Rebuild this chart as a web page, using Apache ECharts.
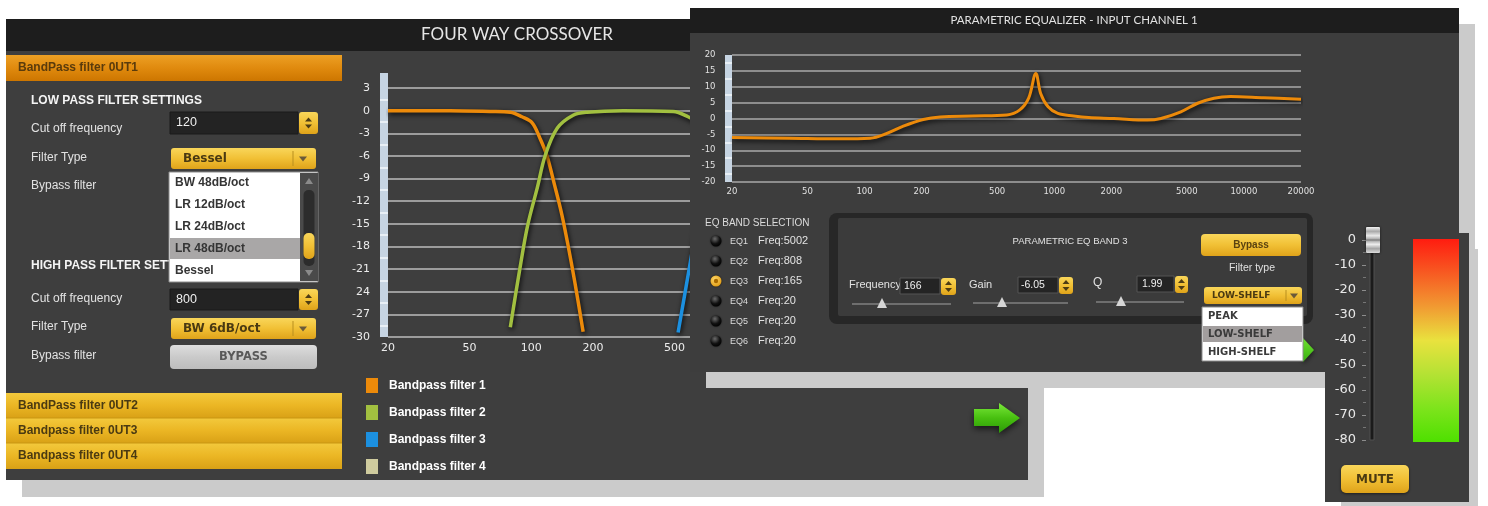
<!DOCTYPE html>
<html><head><meta charset="utf-8">
<script src="https://cdn.jsdelivr.net/npm/echarts@6/dist/echarts.min.js"></script>
<style>html,body{margin:0;padding:0;background:#fff}#c{width:1488px;height:506px}</style>
</head><body><div id="c"></div>
<script>
// ================= DATA =================
const FREQ_TICKS = [20, 50, 100, 200, 500, 1000, 2000, 5000, 10000, 20000];
const XO_Y_TICKS = [-30, -27, -24, -21, -18, -15, -12, -9, -6, -3, 0, 3];
const XO_Y_LABELS = ['-30', '-27', '24', '-21', '-18', '-15', '-12', '-9', '-6', '-3', '0', '3'];
const XO_BAND_MARKS = [-28.5, -25.5, -22.5, -19.5, -16.5, -13.5, -10.5, -7.5, -4.5, -1.5, 1.5];
const XO_NAMES = ['Bandpass filter 1', 'Bandpass filter 2', 'Bandpass filter 3', 'Bandpass filter 4'];
const BP1_HZ = [20, 40, 63, 79, 90, 101, 110, 119, 130, 141, 151, 163, 179];
const BP1_DB = [0, 0, -0.1, -0.2, -0.8, -1.6, -3.6, -5.9, -9.9, -13.8, -17.8, -22.7, -29.3];
const BP2_HZ = [79, 88, 96, 107, 117, 134, 160, 187, 280, 492, 582, 650];
const BP2_DB = [-28.7, -20.9, -15.2, -10.2, -5.9, -2.3, -0.6, -0.2, 0, -0.1, -0.8, -1.6];
const BP3_HZ = [520, 594, 700];
const BP3_DB = [-29.4, -20.4, -9];
const BP4_HZ = [];
const BP4_DB = [];

const EQ_Y_TICKS = [-20, -15, -10, -5, 0, 5, 10, 15, 20];
const EQ_BAND_MARKS = [-17.5, -12.5, -7.5, -2.5, 2.5, 7.5, 12.5, 17.5];
const EQ_HZ = [20, 40, 74, 107, 131, 160, 204, 250, 372, 562, 658, 733, 800, 848, 928, 1045, 1266, 1520, 2060, 3100, 3650, 4650, 5700, 6950, 8500, 12760, 20000];
const EQ_DB = [-6.0, -6.2, -6.4, -6.2, -4.7, -2.4, -0.3, 0.5, 0.8, 1.1, 2.7, 6.4, 14.2, 7.9, 3.7, 1.6, 0.8, 0.3, 0.0, -0.5, 0.0, 2.1, 4.8, 6.4, 6.9, 6.5, 6.1];

const EQ_BANDS = ['EQ1', 'EQ2', 'EQ3', 'EQ4', 'EQ5', 'EQ6'];
const EQ_BAND_FREQ = ['5002', '808', '165', '20', '20', '20'];
const LP_LIST = ['BW 48dB/oct', 'LR 12dB/oct', 'LR 24dB/oct', 'LR 48dB/oct', 'Bessel'];
const SHELF_LIST = ['PEAK', 'LOW-SHELF', 'HIGH-SHELF'];
const METER_MIN = -80, METER_MAX = 0, METER_STEP = 10;

// ================= HELPERS =================
const lg = v => Math.log10(v);
const pairs = (hz, db) => hz.map((f, i) => [lg(f), db[i]]);
const XMIN = lg(20), XMAX = lg(20000);
const labelHz = v => String(Math.round(Math.pow(10, v)));
const SANS = '"Liberation Sans", Arial, sans-serif';
const DJ = '"DejaVu Sans", Verdana, sans-serif';
const G = [];
const lin = (stops) => ({type: 'linear', x: 0, y: 0, x2: 0, y2: 1, colorStops: stops.map((c, i) => ({offset: i / (stops.length - 1), color: c}))});
const YEL = lin(['#f9d65a', '#f1c035', '#dfa31a']);
const YEL2 = lin(['#f3c93c', '#ebb624', '#d9a116']);
const ORANGE = lin(['#eda024', '#e08a0e', '#cd7600']);
const GRAYBTN = lin(['#dedede', '#cacaca', '#bdbdbd']);
function R(x, y, w, h, fill, z, o) {
  o = o || {};
  G.push({type: 'rect', silent: true, z: z, shape: {x: x, y: y, width: w, height: h, r: o.r || 0},
    style: {fill: fill, stroke: o.stroke || null, lineWidth: o.lw || 0, shadowBlur: o.sb || 0, shadowColor: o.sc || 'rgba(0,0,0,0)', shadowOffsetY: o.sy || 0}});
}
function T(x, y, s, size, color, z, o) {
  o = o || {};
  const al = o.align || 'left';
  G.push({type: 'text', silent: true, z: z, x: x, y: y,
    style: {text: s, fill: color, font: (o.bold ? 'bold ' : '') + size + 'px ' + (o.family || SANS),
      align: al, verticalAlign: 'middle', textAlign: al, textVerticalAlign: 'middle'}});
}
function P(pts, fill, z, o) {
  o = o || {};
  G.push({type: 'polygon', silent: true, z: z, shape: {points: pts},
    style: {fill: fill, shadowBlur: o.sb || 0, shadowColor: o.sc || 'rgba(0,0,0,0)', shadowOffsetY: o.sy || 0}});
}
function L(x1, y1, x2, y2, color, w, z) {
  G.push({type: 'line', silent: true, z: z, shape: {x1: x1, y1: y1, x2: x2, y2: y2}, style: {stroke: color, lineWidth: w}});
}
function C(cx, cy, r, fill, z, o) {
  o = o || {};
  G.push({type: 'circle', silent: true, z: z, shape: {cx: cx, cy: cy, r: r},
    style: {fill: fill, stroke: o.stroke || null, lineWidth: o.lw || 0, shadowBlur: o.sb || 0, shadowColor: o.sc || 'rgba(0,0,0,0)'}});
}
function spin(x, y, w, h, z) {
  R(x, y, w, h, YEL, z, {r: 3});
  const cx = x + w / 2, m = y + h / 2;
  P([[cx - 3.5, m - 1.5], [cx + 3.5, m - 1.5], [cx, m - 5.5]], '#4d3c14', z);
  P([[cx - 3.5, m + 1.5], [cx + 3.5, m + 1.5], [cx, m + 5.5]], '#4d3c14', z);
}
function dropdown(x, y, w, h, label, z, size, divOff, arrOff, tx) {
  R(x, y, w, h, YEL, z, {r: 3});
  T(x + tx, y + h / 2 + 0.5, label, size, '#4a3a12', z, {bold: 1, family: DJ});
  L(x + w - divOff, y + 3, x + w - divOff, y + h - 3, '#b98f1e', 1, z);
  const ax = x + w - arrOff, m = y + h / 2;
  P([[ax - 4, m - 2], [ax + 4, m - 2], [ax, m + 3]], '#6a5a3a', z);
}

// ================= CROSSOVER PANEL (bottom layer) =================
R(22, 35, 1022, 462, '#cbcbcb', 1);
R(6, 19, 1022, 461, '#3e3e3e', 2);
R(6, 19, 1022, 32, '#1d1d1d', 2);
T(517, 35, 'FOUR WAY CROSSOVER', 17, '#e6e6e6', 2, {align: 'center', family: 'Lato, "Open Sans", sans-serif'});

R(6, 55, 336, 26, ORANGE, 3);
T(18, 68, 'BandPass filter 0UT1', 12, '#5a3b0c', 3, {bold: 1});
T(31, 101, 'LOW PASS FILTER SETTINGS', 12, '#f4f4f4', 3, {bold: 1});
T(31, 129, 'Cut off frequency', 12, '#e2e2e2', 3);
R(170, 112, 128, 22, '#232323', 3, {stroke: '#1a1a1a', lw: 1});
T(176, 123, '120', 12.5, '#efefef', 3);
spin(299, 112, 19, 22, 3);
T(31, 158, 'Filter Type', 12, '#e2e2e2', 3);
dropdown(171, 148, 145, 21, 'Bessel', 3, 12, 23, 13, 12);
T(31, 186, 'Bypass filter', 12, '#e2e2e2', 3);
T(31, 266, 'HIGH PASS FILTER SETTINGS', 12, '#f4f4f4', 3, {bold: 1});
T(31, 299, 'Cut off frequency', 12, '#e2e2e2', 3);
R(170, 289, 128, 21, '#232323', 3, {stroke: '#1a1a1a', lw: 1});
T(176, 300, '800', 12.5, '#efefef', 3);
spin(299, 289, 19, 21, 3);
T(31, 327, 'Filter Type', 12, '#e2e2e2', 3);
dropdown(171, 318, 145, 21, 'BW 6dB/oct', 3, 12, 23, 13, 12);
T(31, 356, 'Bypass filter', 12, '#e2e2e2', 3);
R(170, 345, 147, 24, GRAYBTN, 3, {r: 4});
T(243.5, 357, 'BYPASS', 11.5, '#595959', 3, {bold: 1, align: 'center', family: DJ});
// open list
R(169, 172, 149, 110, '#ffffff', 3, {stroke: '#8c8c8c', lw: 1});
R(170, 238, 130, 21, '#a9a7a7', 3);
LP_LIST.forEach((s, i) => T(175, 183 + i * 22, s, 12, '#353535', 3, {bold: 1}));
R(300, 173, 18, 108, '#4a4a4a', 3);
R(303.5, 190, 11, 76, '#2c2c2c', 3, {r: 5});
R(303.5, 233, 11, 26, YEL, 3, {r: 5});
P([[305, 184], [313, 184], [309, 178]], '#8a8a8a', 3);
P([[305, 270], [313, 270], [309, 276]], '#8a8a8a', 3);
// collapsed headers
R(6, 393, 336, 25, YEL2, 3);
R(6, 418, 336, 25, YEL2, 3);
R(6, 443, 336, 26, YEL2, 3);
L(6, 418, 342, 418, '#c99612', 1, 3);
L(6, 443, 342, 443, '#c99612', 1, 3);
T(18, 406, 'BandPass filter 0UT2', 12, '#4a3a12', 3, {bold: 1});
T(18, 431, 'Bandpass filter 0UT3', 12, '#4a3a12', 3, {bold: 1});
T(18, 456, 'Bandpass filter 0UT4', 12, '#4a3a12', 3, {bold: 1});
// green arrow
P([[974, 409], [999, 409], [999, 403], [1020, 418], [999, 433], [999, 426], [974, 426]],
  lin(['#7ae83a', '#48c010', '#2c9a08']), 3, {sb: 6, sc: 'rgba(0,0,0,0.6)', sy: 3});

// ================= EQ PANEL =================
R(706, 24, 769, 364, '#cbcbcb', 10);
R(690, 8, 769, 364, '#3d3d3d', 11);
R(690, 8, 769, 25, '#1d1d1d', 11);
T(1074, 20.5, 'PARAMETRIC EQUALIZER - INPUT CHANNEL 1', 11.5, '#e2e2e2', 11, {align: 'center', family: 'Lato, "Open Sans", sans-serif'});

T(705, 223, 'EQ BAND SELECTION', 10, '#dcdcdc', 14);
EQ_BANDS.forEach((b, i) => {
  const y = 241 + i * 20;
  if (i === 2) {
    C(716, y, 5.5, {type: 'radial', x: 0.4, y: 0.35, r: 0.7, colorStops: [{offset: 0, color: '#ffd86a'}, {offset: 1, color: '#e09a10'}]}, 14, {sb: 2, sc: 'rgba(0,0,0,0.7)'});
    C(716, y, 2.2, '#a86a00', 14);
  } else {
    C(716, y, 5.5, {type: 'radial', x: 0.4, y: 0.3, r: 0.75, colorStops: [{offset: 0, color: '#6a6a6a'}, {offset: 0.6, color: '#111'}, {offset: 1, color: '#000'}]}, 14, {sb: 2, sc: 'rgba(0,0,0,0.6)'});
  }
  T(730, y + 0.5, b, 9, '#dedede', 14);
  T(758, y - 0.5, 'Freq:' + EQ_BAND_FREQ[i], 11, '#e2e2e2', 14);
});
R(829, 213, 484, 111, '#272727', 14, {r: 8});
R(838, 218, 469, 98, '#3b3b3b', 14, {r: 2});
T(1070, 241, 'PARAMETRIC EQ BAND 3', 9.5, '#e2e2e2', 14, {align: 'center'});
T(849, 285, 'Frequency', 11, '#e2e2e2', 14);
R(900, 278, 40, 16, '#242424', 14, {stroke: '#555', lw: 1});
T(904, 286.5, '166', 10.5, '#efefef', 14);
spin(941, 278, 15, 17, 14);
L(852, 304, 951, 304, '#6e6e6e', 2, 14);
P([[877, 308], [887, 308], [882, 298]], '#d6d6d6', 14);
T(969, 285, 'Gain', 11, '#e2e2e2', 14);
R(1018, 277, 40, 16, '#242424', 14, {stroke: '#555', lw: 1});
T(1021, 285.5, '-6.05', 10.5, '#efefef', 14);
spin(1059, 277, 14, 17, 14);
L(973, 303, 1068, 303, '#6e6e6e', 2, 14);
P([[997, 307], [1007, 307], [1002, 297]], '#d6d6d6', 14);
T(1093, 283, 'Q', 12, '#e2e2e2', 14);
R(1137, 276, 37, 16, '#242424', 14, {stroke: '#555', lw: 1});
T(1142, 284.5, '1.99', 10.5, '#efefef', 14);
spin(1175, 276, 13, 17, 14);
L(1096, 302, 1184, 302, '#6e6e6e', 2, 14);
P([[1116, 306], [1126, 306], [1121, 296]], '#d6d6d6', 14);
R(1201, 234, 100, 22, YEL, 14, {r: 4});
T(1251, 245.5, 'Bypass', 10, '#5a4210', 14, {bold: 1, align: 'center'});
T(1252, 268, 'Filter type', 10.5, '#e0e0e0', 14, {align: 'center'});
dropdown(1204, 287, 98, 17, 'LOW-SHELF', 14, 9, 16, 8, 8);
P([[1303, 338], [1314, 350], [1303, 362]], lin(['#70e030', '#38b010']), 14, {sb: 5, sc: 'rgba(0,0,0,0.6)', sy: 2});
R(1202, 307, 101, 54, '#ffffff', 14, {stroke: '#8c8c8c', lw: 1});
R(1203, 326, 99, 16, '#a29e9e', 14);
SHELF_LIST.forEach((s, i) => T(1208, 316.5 + i * 18, s, 10, '#3a3a3a', 14, {bold: 1, family: DJ}));

// ================= METER PANEL =================
R(1341, 249, 137, 266, '#cbcbcb', 20);
R(1325, 233, 144, 269, '#3d3d3d', 21);
R(1370, 238, 4, 202, '#1b1b1b', 21, {stroke: '#505050', lw: 1});
R(1413, 239, 46, 203, lin(['#ff1c10', '#f75a22', '#f19a32', '#e9e23e', '#b4e234', '#7ee41c', '#4ee000']), 21);
R(1341, 465, 68, 28, YEL, 21, {r: 5, sb: 3, sc: 'rgba(0,0,0,0.5)', sy: 1});
T(1375, 479.5, 'MUTE', 12, '#4a3a12', 21, {bold: 1, align: 'center', family: DJ});
R(1366, 227, 14, 26, lin(['#f4f4f4', '#a9a9a9', '#e9e9e9', '#9c9c9c', '#eeeeee', '#a4a4a4', '#dddddd']), 23, {r: 1, sb: 3, sc: 'rgba(0,0,0,0.6)'});
L(1366, 240, 1380, 240, '#7a7a7a', 1, 23);

// ================= OPTION =================
const lineShadow = {shadowColor: 'rgba(0,0,0,0.9)', shadowBlur: 5, shadowOffsetX: 1, shadowOffsetY: 2};
const xoColors = ['#ec8a0a', '#a2c040', '#1c90e0', '#cfcb9e'];
const xoData = [pairs(BP1_HZ, BP1_DB), pairs(BP2_HZ, BP2_DB), pairs(BP3_HZ, BP3_DB), pairs(BP4_HZ, BP4_DB)];

const option = {
  backgroundColor: '#ffffff',
  animation: false,
  graphic: {elements: G},
  grid: [
    {left: 388, top: 73, width: 615, height: 264},
    {left: 732, top: 55, width: 569, height: 127},
    {left: 1366, top: 240, width: 8, height: 200}
  ],
  legend: {
    data: XO_NAMES, orient: 'vertical', left: 366, top: 378, padding: 0, icon: 'rect',
    itemWidth: 12, itemHeight: 15, itemGap: 12, selectedMode: false, z: 6,
    textStyle: {color: '#ffffff', fontWeight: 'bold', fontSize: 12, fontFamily: SANS, padding: [0, 0, 0, 6]}
  },
  xAxis: [
    {type: 'value', gridIndex: 0, min: XMIN, max: XMAX, z: 4,
      axisLine: {show: false, onZero: false}, axisTick: {show: false}, splitLine: {show: false},
      axisLabel: {customValues: FREQ_TICKS.map(lg), formatter: labelHz, color: '#ececec', fontFamily: DJ, fontSize: 11, margin: 6}},
    {type: 'value', gridIndex: 1, min: XMIN, max: XMAX, z: 12,
      axisLine: {show: false, onZero: false}, axisTick: {show: false}, splitLine: {show: false},
      axisLabel: {customValues: FREQ_TICKS.map(lg), formatter: labelHz, color: '#e0e0e0', fontFamily: DJ, fontSize: 8.5, margin: 5}},
    {type: 'value', gridIndex: 2, show: false, min: 0, max: 1}
  ],
  yAxis: [
    {type: 'value', gridIndex: 0, position: 'left', min: -30, max: 5, offset: 4, z: 4,
      axisLine: {show: true, onZero: false, lineStyle: {color: '#c6d4e2', width: 8, cap: 'butt'}},
      axisTick: {show: false, customValues: XO_Y_TICKS},
      axisLabel: {customValues: XO_Y_TICKS, formatter: v => XO_Y_LABELS[XO_Y_TICKS.indexOf(Math.round(v))], color: '#ececec', fontFamily: DJ, fontSize: 11, margin: 14},
      splitLine: {show: true, lineStyle: {color: '#bdbdbd', width: 1.5}}},
    {type: 'value', gridIndex: 0, position: 'left', min: -30, max: 5, offset: 8, z: 5,
      axisLine: {show: false, onZero: false}, axisLabel: {show: false}, splitLine: {show: false},
      axisTick: {show: true, inside: true, length: 8, customValues: XO_BAND_MARKS, lineStyle: {color: '#f4f8fb', width: 1.5}}},
    {type: 'value', gridIndex: 1, position: 'left', min: -20, max: 20, interval: 5, offset: 3.5, z: 12,
      axisLine: {show: true, onZero: false, lineStyle: {color: '#c6d4e2', width: 7, cap: 'butt'}},
      axisTick: {show: false},
      axisLabel: {color: '#e0e0e0', fontFamily: DJ, fontSize: 8.5, margin: 13},
      splitLine: {show: true, lineStyle: {color: '#a9a9a9', width: 1.5}}},
    {type: 'value', gridIndex: 1, position: 'left', min: -20, max: 20, offset: 7, z: 12.5,
      axisLine: {show: false, onZero: false}, axisLabel: {show: false}, splitLine: {show: false},
      axisTick: {show: true, inside: true, length: 7, customValues: EQ_BAND_MARKS, lineStyle: {color: '#f4f8fb', width: 1.5}}},
    {type: 'value', gridIndex: 2, position: 'left', min: METER_MIN, max: METER_MAX, interval: METER_STEP, z: 22,
      axisLine: {show: false, onZero: false},
      axisTick: {show: true, length: 4, lineStyle: {color: '#8c8c8c'}},
      minorTick: {show: true, splitNumber: 2, length: 3, lineStyle: {color: '#767676'}},
      axisLabel: {color: '#e8e8e8', fontFamily: DJ, fontSize: 13, margin: 10},
      splitLine: {show: false}, minorSplitLine: {show: false}}
  ],
  series: XO_NAMES.map((n, i) => ({
    name: n, type: 'line', xAxisIndex: 0, yAxisIndex: 0, data: xoData[i], z: 6,
    color: xoColors[i], symbol: 'none', smooth: 0.35,
    lineStyle: Object.assign({color: xoColors[i], width: 3.5}, lineShadow)
  })).concat([{
    name: 'EQ', type: 'line', xAxisIndex: 1, yAxisIndex: 2, data: pairs(EQ_HZ, EQ_DB), z: 13,
    color: '#ec8a0a', symbol: 'none', smooth: 0.35,
    lineStyle: Object.assign({color: '#ec8a0a', width: 3}, lineShadow)
  }])
};
const chart = echarts.init(document.getElementById('c'), null, {renderer: 'canvas'});
chart.setOption(option);
</script>
</body></html>
